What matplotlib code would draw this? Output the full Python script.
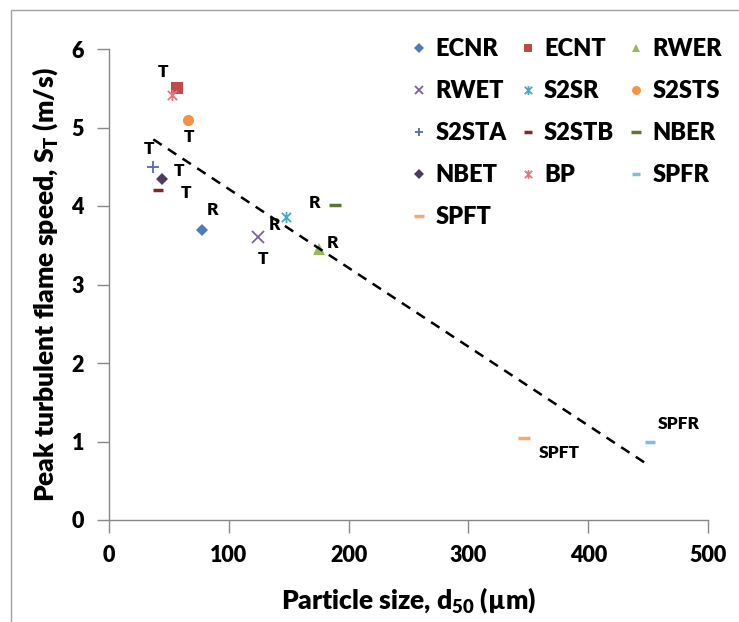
import matplotlib
matplotlib.use("Agg")
import matplotlib.pyplot as plt
from matplotlib.path import Path
from matplotlib.patches import Rectangle

plt.rcParams['font.family'] = ['Lato', 'DejaVu Sans']
plt.rcParams['mathtext.fontset'] = 'custom'
plt.rcParams['mathtext.rm'] = 'Lato:heavy'
plt.rcParams['mathtext.default'] = 'rm'

# ---- data ----
names = ['ECNR', 'ECNT', 'RWER', 'RWET', 'S2SR', 'S2STS', 'S2STA', 'S2STB',
         'NBER', 'NBET', 'BP', 'SPFR', 'SPFT']
xs = [78, 57, 175, 124, 148, 66, 37, 41, 189, 44, 53, 452, 346]
ys = [3.70, 5.50, 3.45, 3.60, 3.86, 5.10, 4.50, 4.20, 4.01, 4.35, 5.41, 1.00, 1.04]
colors = ['#4A7EBB', '#BE4B48', '#98B954', '#7D60A0', '#46AAC5', '#F69240',
          '#4F6FA8', '#7F2A2A', '#5F7530', '#4C3B62', '#E07B7B', '#7FBFD6', '#F9A86A']
# point labels (text, x, y)
lab_text = ['T', 'T', 'T', 'T', 'T', 'R', 'T', 'R', 'R', 'R', 'SPFR', 'SPFT']
lab_x = [41, 62, 29, 54, 60, 82, 124, 133, 167, 182, 458, 359]
lab_y = [5.71, 4.88, 4.73, 4.44, 4.16, 3.95, 3.32, 3.76, 4.04, 3.53, 1.22, 0.85]
trend_x = [37, 450]
trend_slope, trend_int = -0.01004, 5.22

xticks = [0, 100, 200, 300, 400, 500]
yticks = [0, 1, 2, 3, 4, 5, 6]

# ---- markers ----
star = Path([(-1, -1), (1, 1), (-1, 1), (1, -1), (0, -1.2), (0, 1.2)],
            [Path.MOVETO, Path.LINETO, Path.MOVETO, Path.LINETO, Path.MOVETO, Path.LINETO])
markers = {'ECNR': ('D', 6, 0), 'ECNT': ('s', 8, 0), 'RWER': ('^', 8, 0),
           'RWET': ('x', 8, 1.3), 'S2SR': (star, 8, 1.3), 'S2STS': ('o', 8, 0),
           'S2STA': ('+', 8, 1.3), 'S2STB': ('_', 7, 2.5), 'NBER': ('_', 9, 2.5),
           'NBET': ('D', 6, 0), 'BP': (star, 8, 1.3), 'SPFR': ('_', 7, 2.5),
           'SPFT': ('_', 9, 2.5)}

fig = plt.figure(figsize=(7.39, 6.22), dpi=100)
fig.patches.append(Rectangle((11 / 739, -0.1), 1.2, 1 - 10 / 622 + 0.1,
                             transform=fig.transFigure, fill=False,
                             edgecolor='#A0A0A0', linewidth=1.0))
ax = fig.add_axes([109 / 739, 102 / 622, 599 / 739, 471 / 622])

handles = {}
for n, x, y, c in zip(names, xs, ys, colors):
    m, ms, mew = markers[n]
    h, = ax.plot([x], [y], linestyle='none', marker=m, markersize=ms,
                 color=c, markeredgecolor=c, markeredgewidth=mew, label=n)
    handles[n] = h

ty = [trend_int + trend_slope * x for x in trend_x]
ax.plot(trend_x, ty, linestyle=(0, (4, 3)), color='black', linewidth=1.8)

for t, x, y in zip(lab_text, lab_x, lab_y):
    ax.text(x, y, t, fontsize=12.5, fontweight='heavy', ha='left', va='center')

ax.set_xlim(0, 500)
ax.set_ylim(0, 6)
ax.set_xticks(xticks)
ax.set_yticks(yticks)
for s in ['top', 'right']:
    ax.spines[s].set_visible(False)
for s in ['left', 'bottom']:
    ax.spines[s].set_color('#888888')
    ax.spines[s].set_linewidth(1.0)
ax.tick_params(direction='out', length=9, color='#888888', width=1.0,
               labelsize=15.5, pad=9)
for lbl in ax.get_xticklabels() + ax.get_yticklabels():
    lbl.set_fontweight('heavy')

ax.set_xlabel('Particle size, d$_{50}$ (µm)', fontsize=19, fontweight='heavy', labelpad=14)
ax.set_ylabel('Peak turbulent flame speed, S$_{T}$ (m/s)', fontsize=19,
              fontweight='heavy', labelpad=8)

order = ['ECNR', 'RWET', 'S2STA', 'NBET', 'SPFT', 'ECNT', 'S2SR', 'S2STB', 'BP',
         'RWER', 'S2STS', 'NBER', 'SPFR']
leg = ax.legend([handles[n] for n in order], order, ncol=3, frameon=False,
                loc='upper left', bbox_to_anchor=(401 / 739, 1 - 29 / 622),
                bbox_transform=fig.transFigure,
                prop={'size': 17, 'weight': 'heavy'}, handlelength=0.7,
                handletextpad=0.35, columnspacing=0.55, labelspacing=0.84,
                borderaxespad=0, markerscale=0.8)

fig.savefig('out.png', dpi=100)
